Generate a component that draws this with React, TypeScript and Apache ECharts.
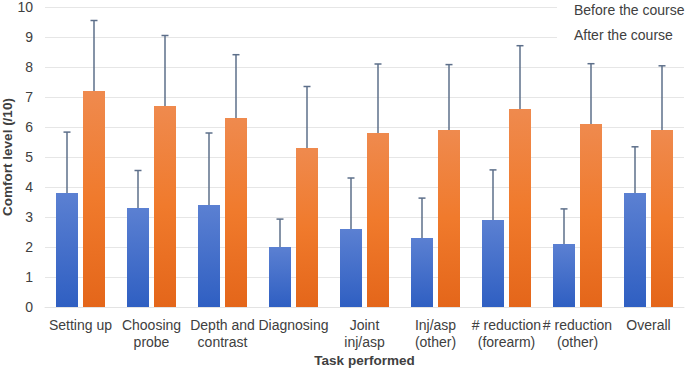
import React, { useEffect, useRef } from "react";
import * as echarts from "echarts";

const categories = [
  "Setting up",
  "Choosing\nprobe",
  "Depth and\ncontrast",
  "Diagnosing",
  "Joint\ninj/asp",
  "Inj/asp\n(other)",
  "# reduction\n(forearm)",
  "# reduction\n(other)",
  "Overall",
];
const beforeMean = [3.8, 3.3, 3.4, 2.0, 2.6, 2.3, 2.9, 2.1, 3.8];
const beforeUpper = [5.83, 4.55, 5.8, 2.93, 4.3, 3.63, 4.57, 3.27, 5.34];
const afterMean = [7.2, 6.7, 6.3, 5.3, 5.8, 5.9, 6.6, 6.1, 5.9];
const afterUpper = [9.55, 9.05, 8.41, 7.35, 8.1, 8.08, 8.71, 8.11, 8.04];
const seriesNames = ["Before the course", "After the course"];

const BAR_W = 22;
const GAP = 5;

function errorSeries(name: string, means: number[], uppers: number[], offset: number) {
  return {
    type: "custom",
    name: name + " error",
    silent: true,
    z: 5,
    data: means.map((m, i) => [i, m, uppers[i]]),
    encode: { x: 0, y: [1, 2] },
    renderItem: (params: any, api: any) => {
      const i = api.value(0);
      const lo = api.coord([i, api.value(1)]);
      const hi = api.coord([i, api.value(2)]);
      const x = lo[0] + offset;
      const style = { stroke: "#5d6f8a", lineWidth: 1.5 };
      return {
        type: "group",
        children: [
          { type: "line", shape: { x1: x, y1: lo[1], x2: x, y2: hi[1] }, style },
          { type: "line", shape: { x1: x - 3.5, y1: hi[1], x2: x + 3.5, y2: hi[1] }, style },
        ],
      };
    },
  };
}

export default function App() {
  const ref = useRef<HTMLDivElement>(null);
  useEffect(() => {
    if (!ref.current) return;
    document.body.style.margin = "0";
    const chart = echarts.init(ref.current, null, { renderer: "svg" });
    const font = "'Liberation Sans', Arial, Helvetica, sans-serif";
    const off = BAR_W / 2 + GAP / 2;
    chart.setOption({
      animation: false,
      textStyle: { fontFamily: font },
      grid: { left: 45, right: 1, top: 7, bottom: 61, outerBoundsMode: "none" },
      legend: {
        data: seriesNames,
        orient: "vertical",
        left: 557,
        top: 0,
        icon: "none",
        itemWidth: 0,
        itemHeight: 14,
        itemGap: 11,
        backgroundColor: "#ffffff",
        padding: [3, 10, 5, 12],
        textStyle: { color: "#404040", fontSize: 14, fontFamily: font },
        selectedMode: false,
        z: 10,
      },
      xAxis: {
        type: "category",
        data: categories,
        name: "Task performed",
        nameLocation: "middle",
        nameGap: 46,
        nameMoveOverlap: false,
        nameTextStyle: { fontWeight: "bold", fontSize: 13.5, color: "#404040", fontFamily: font },
        axisLine: { show: true, lineStyle: { color: "#e3e3e3" } },
        axisTick: { show: false },
        axisLabel: {
          interval: 0,
          color: "#404040",
          fontSize: 14,
          lineHeight: 17,
          margin: 9,
          fontFamily: font,
        },
      },
      yAxis: {
        type: "value",
        min: 0,
        max: 10,
        interval: 1,
        name: "Comfort level (/10)",
        nameLocation: "middle",
        nameGap: 31,
        nameMoveOverlap: false,
        nameTextStyle: { fontWeight: "bold", fontSize: 13.5, color: "#404040", fontFamily: font },
        axisLine: { show: false },
        axisTick: { show: false },
        axisLabel: { color: "#404040", fontSize: 14, margin: 12, fontFamily: font },
        splitLine: { lineStyle: { color: "#e6e6e6", width: 1 } },
      },
      series: [
        {
          type: "bar",
          name: seriesNames[0],
          data: beforeMean,
          barWidth: BAR_W,
          barGap: (GAP / BAR_W) * 100 + "%",
          itemStyle: {
            color: new echarts.graphic.LinearGradient(0, 0, 0, 1, [
              { offset: 0, color: "#5b80d2" },
              { offset: 1, color: "#2f5fc2" },
            ]),
          },
        },
        {
          type: "bar",
          name: seriesNames[1],
          data: afterMean,
          barWidth: BAR_W,
          itemStyle: {
            color: new echarts.graphic.LinearGradient(0, 0, 0, 1, [
              { offset: 0, color: "#ef8a4e" },
              { offset: 0.5, color: "#f07a2c" },
              { offset: 1, color: "#e4661a" },
            ]),
          },
        },
        errorSeries(seriesNames[0], beforeMean, beforeUpper, -off),
        errorSeries(seriesNames[1], afterMean, afterUpper, off),
      ],
    });
    return () => chart.dispose();
  }, []);
  return <div ref={ref} style={{ width: 685, height: 368 }} />;
}
